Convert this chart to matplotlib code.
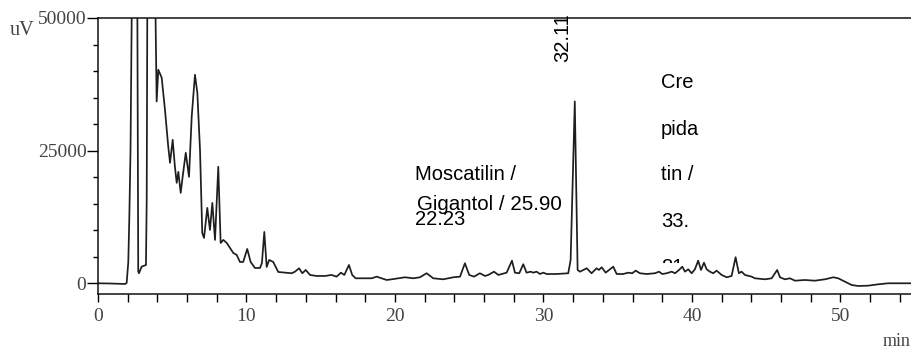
#!/usr/bin/env python3
"""
HPLC chromatogram with annotated peaks
"""

import matplotlib
matplotlib.use("Agg")
import matplotlib.pyplot as plt
from matplotlib.transforms import Bbox, TransformedBbox

# Retention time (min) and detector signal (uV)
time_min = [
    0.00, 0.81, 1.82, 1.93, 2.04, 2.11, 2.19, 2.30, 2.47, 2.64,
    2.71, 2.76, 2.94, 3.23, 3.28, 3.33, 3.57, 3.83, 3.95, 4.06,
    4.29, 4.51, 4.73, 4.85, 5.03, 5.18, 5.30, 5.41, 5.57, 5.70,
    5.91, 6.13, 6.31, 6.53, 6.69, 6.87, 7.02, 7.14, 7.36, 7.54,
    7.70, 7.88, 8.10, 8.26, 8.44, 8.67, 8.89, 9.11, 9.34, 9.56,
    9.78, 10.05, 10.28, 10.57, 10.91, 11.04, 11.20, 11.36, 11.53, 11.80,
    12.14, 12.59, 13.04, 13.27, 13.54, 13.76, 13.99, 14.28, 14.73, 15.29,
    15.73, 16.07, 16.36, 16.59, 16.90, 17.12, 17.35, 17.98, 18.43, 18.77,
    19.10, 19.44, 19.78, 20.22, 20.67, 21.23, 21.68, 22.13, 22.58, 23.25,
    23.93, 24.38, 24.71, 25.00, 25.32, 25.72, 26.06, 26.28, 26.67, 26.96,
    27.52, 27.88, 28.08, 28.37, 28.64, 28.86, 29.14, 29.31, 29.54, 29.76,
    29.99, 30.22, 30.89, 31.67, 31.83, 32.11, 32.30, 32.46, 32.68, 32.91,
    33.24, 33.58, 33.73, 33.92, 34.19, 34.48, 34.70, 34.93, 35.37, 35.71,
    35.98, 36.21, 36.50, 36.95, 37.51, 37.78, 38.00, 38.30, 38.63, 38.86,
    39.13, 39.35, 39.53, 39.75, 39.98, 40.20, 40.42, 40.61, 40.81, 40.99,
    41.21, 41.43, 41.66, 42.00, 42.34, 42.67, 42.94, 43.16, 43.34, 43.57,
    44.02, 44.24, 44.92, 45.37, 45.74, 45.93, 46.26, 46.60, 46.94, 47.61,
    48.28, 48.96, 49.52, 49.85, 50.30, 50.75, 51.20, 51.87, 52.55, 53.22,
    54.82,
]
signal_uv = [
    0, -40, -130, 60, 4000, 12500, 25150, 60000, 90000, 60000,
    2190, 1890, 3130, 3450, 15700, 60000, 90000, 60000, 34270, 40250,
    38740, 32700, 25780, 22700, 27040, 21950, 18930, 21000, 17040, 20060,
    24590, 20060, 31380, 39300, 35910, 25150, 9490, 8550, 14210, 10060,
    15150, 8170, 21950, 7600, 8170, 7600, 6660, 5720, 5340, 4020,
    4020, 6470, 4020, 2890, 2890, 3830, 9680, 3080, 4400, 4020,
    2130, 2000, 1890, 2190, 2830, 1890, 2510, 1570, 1380, 1380,
    1570, 1250, 2000, 1570, 3450, 1570, 940, 940, 940, 1250,
    940, 620, 750, 940, 1130, 940, 1130, 1890, 940, 750,
    1130, 1250, 3770, 1570, 1250, 1890, 1380, 1570, 2190, 1570,
    2000, 4260, 2000, 1890, 3590, 2000, 2190, 2000, 2190, 1750,
    2000, 1750, 1750, 1890, 4400, 34270, 2510, 2190, 2510, 2830,
    1890, 2830, 2510, 3020, 2000, 2640, 3130, 1750, 1750, 2000,
    1890, 2380, 1890, 1750, 1890, 2190, 1750, 1890, 2190, 1890,
    2510, 3130, 2190, 2640, 1890, 2640, 4260, 2510, 3890, 2640,
    2190, 1890, 2380, 1570, 1130, 1380, 4910, 1890, 2190, 1570,
    1250, 940, 750, 940, 2510, 1130, 750, 940, 490, 620,
    490, 750, 1130, 940, 300, -320, -510, -450, -190, 0,
    0,
]

x_major = [0, 10, 20, 30, 40, 50]
y_major = [0, 25000, 50000]

fig = plt.figure(figsize=(9.12, 3.51), dpi=100, facecolor='white')
ax = fig.add_axes([98 / 912, 57 / 351, 814 / 912, 276 / 351])

ax.plot(time_min, signal_uv, color='#1e1e1e', linewidth=1.25)

ax.set_xlim(0, 54.82)
ax.set_ylim(-2020, 50000)

# Spines: left, bottom and top only
for side in ('left', 'bottom', 'top'):
    ax.spines[side].set_linewidth(1.1)
    ax.spines[side].set_color('#111111')
ax.spines['right'].set_visible(False)

ax.set_xticks(x_major)
ax.set_xticks(range(0, 55, 2), minor=True)
ax.set_yticks(y_major)
ax.set_yticks(range(0, 50001, 5000), minor=True)

serif = 'Liberation Serif'
ax.set_xticklabels([str(v) for v in x_major], family=serif, fontsize=14, color='#444444')
ax.set_yticklabels([str(v) for v in y_major], family=serif, fontsize=14, color='#444444')
ax.tick_params(axis='x', which='both', direction='out', length=5.8, width=1.0, pad=4)
ax.tick_params(axis='y', which='major', direction='out', length=7.8, width=1.0, pad=0.5)
ax.tick_params(axis='y', which='minor', direction='out', length=3.6, width=1.0)

# Axis unit labels
fig.text(10 / 912, 1 - 35 / 351, 'uV', family=serif, fontsize=14.5, color='#444444',
         ha='left', va='baseline')
fig.text(883 / 912, 1 - 346 / 351, 'min', family=serif, fontsize=13, color='#444444',
         ha='left', va='baseline')

# Peak annotations
sans = 'Liberation Sans'
ax.text(31.31, 41720, '32.11', family=sans, fontsize=14.5, rotation=90,
        ha='center', va='bottom', color='black')
ax.text(21.35, 19470, 'Moscatilin /', family=sans, fontsize=14.5, va='baseline')
ax.text(21.48, 13820, 'Gigantol / 25.90', family=sans, fontsize=14.8, va='baseline')
ax.text(21.35, 10990, '22.23', family=sans, fontsize=14.5, va='baseline')

for word, y in [('Cre', 36760), ('pida', 27910), ('tin /', 19470), ('33.', 10670)]:
    ax.text(37.91, y, word, family=sans, fontsize=14.5, va='baseline')

cut = ax.text(37.91, 1940, '81', family=sans, fontsize=14.5, va='baseline', clip_on=True)
cut.set_clip_box(TransformedBbox(Bbox([[37.0, 3830], [42.0, 60000]]), ax.transData))

fig.savefig('out.png', dpi=100, facecolor='white')
plt.close(fig)
